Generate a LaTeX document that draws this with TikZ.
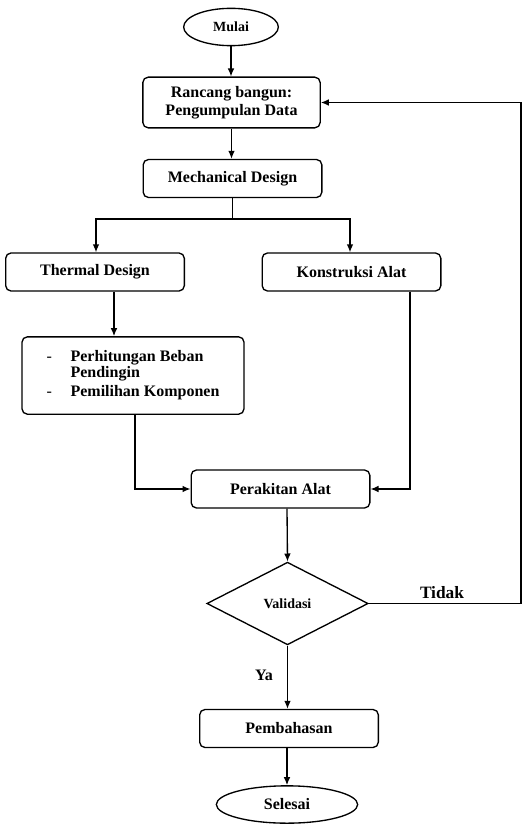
\documentclass[tikz,border=0pt]{standalone}
\usepackage{fontspec}
\setmainfont{Liberation Serif}
\usetikzlibrary{arrows.meta}
\usetikzlibrary{shapes}
\newcommand\boxfont{\fontsize{12}{13.5}\selectfont\bfseries}
\newcommand\smallboxfont{\fontsize{10.5}{12}\selectfont\bfseries}

\begin{document}
\begin{tikzpicture}[x=0.75pt,y=-0.75pt]
  \tikzset{line/.style={draw, line width=1pt}}
  \tikzset{line2/.style={draw, line width=1pt, ->, >={Latex[length=6pt,width=5pt]}}}
  \tikzset{box/.style={draw, line width=1pt, rounded corners=4pt, font=\boxfont, align=center, minimum width=134pt, minimum height=28.5pt, inner sep=2pt}}
  \tikzset{term/.style={draw, line width=1pt, ellipse, inner sep=0pt}}
  \tikzset{decision/.style={draw, line width=1pt, diamond, font=\smallboxfont, inner sep=0pt, minimum width=121pt, minimum height=62pt}}

  \useasboundingbox (0,0) rectangle (524,824);

  % columns of the connectors
  \coordinate (split) at (232.5,219);
  \coordinate (kiri) at (96,0);
  \coordinate (kanan) at (350,0);
  \coordinate (colA) at (114,0);
  \coordinate (colB) at (135,0);
  \coordinate (colC) at (410,0);
  \coordinate (colD) at (287,0);
  \coordinate (balik) at (521,0);

  \node[term, minimum width=71pt, minimum height=28pt, font=\smallboxfont] (mulai) at (231,27) {Mulai};
  \node[box, minimum width=133pt, minimum height=38pt] (rancang) at (231.5,102.5) {Rancang bangun:\\Pengumpulan Data};
  \node[box] (mech) at (232.5,178.5) {Mechanical Design};
  \node[box] (thermal) at (95,272) {Thermal Design};
  \node[box] (konstruksi) at (351.5,272) {Konstruksi Alat};
  \node[box, minimum width=166.5pt, minimum height=58pt, align=left] (hitung) at (133,375.5)
    {\begin{tabular}{@{}p{18pt}@{}l@{}}
      \mdseries - & Perhitungan Beban\\[-1.5pt]
                  & Pendingin\\[1pt]
      \mdseries - & Pemilihan Komponen
     \end{tabular}};
  \node[box] (rakit) at (280.5,489) {Perakitan Alat};
  \node[decision] (validasi) at (287.5,603.5) {Validasi};
  \node[box] (bahas) at (289,728.5) {Pembahasan};
  \node[term, minimum width=106pt, minimum height=28pt, font=\boxfont] (selesai) at (287,804.5) {Selesai};

  \node[font=\fontsize{13}{15}\selectfont\bfseries] (tidak) at (442,593) {Tidak};
  \node[font=\boxfont] (ya) at (264,675) {Ya};

  \draw[line2] (mulai.south) -- (mulai.south |- rancang.north);
  \draw[line2] (rancang.south) -- (rancang.south |- mech.north);
  \draw[line] (mech.south) -- (split);
  \draw[line2] (split) -| (kiri |- thermal.north);
  \draw[line2] (split) -| (kanan |- konstruksi.north);
  \draw[line2] (colA |- thermal.south) -- (colA |- hitung.north);
  \draw[line2] (colB |- hitung.south) |- (rakit.west);
  \draw[line2] (colC |- konstruksi.south) |- (rakit.east);
  \draw[line2] (colD |- rakit.south) -- (validasi.north);
  \draw[line2] (validasi.south) -- (validasi.south |- bahas.north);
  \draw[line2] (colD |- bahas.south) -- (selesai.north);
  \draw[line2] (validasi.east) -- (balik |- validasi.east) |- (rancang.east);

\end{tikzpicture}
\end{document}
